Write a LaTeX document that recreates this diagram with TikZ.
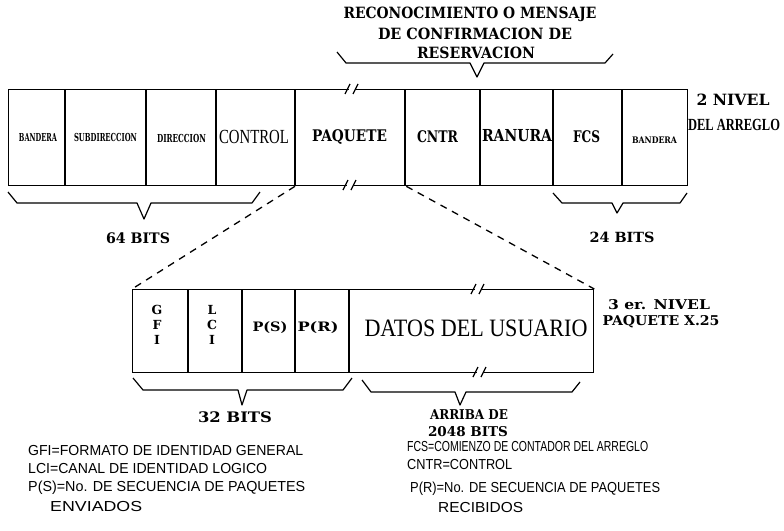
\documentclass[tikz,border=0pt]{standalone}
\usepackage{fontspec}
\usepackage{graphicx}
\setmainfont{Liberation Serif}
\newfontfamily\legfont{Liberation Sans}
\newfontfamily\dotfont{DejaVu Serif}
\newfontfamily\timesbold{Liberation Serif}
\newcommand{\fw}[3]{\resizebox{#1pt}{\height}{\fontsize{#2}{#2}\selectfont #3}}
\usetikzlibrary{calc}
\tikzset{
  fld/.style={draw, line width=1.3pt, anchor=north west, inner sep=0pt},
  top/.style={fld, minimum height=96pt},
  low/.style={fld, minimum height=83pt},
  vsep/.style={line width=2.2pt},
  lab/.style={inner sep=0pt, font=\dotfont\bfseries},
  rlab/.style={inner sep=0pt, font=\timesbold},
  leg/.style={inner sep=0pt, anchor=west, font=\legfont},
  brace/.style={line width=1.2pt, line join=round},
  zoomline/.style={line width=1.3pt, dash pattern=on 7pt off 6pt},
  brk/.style={line width=1.2pt}
}
\newcommand{\brkmark}[2]{%
  \fill[white] (#1-3,#2-2.5) rectangle (#1+3,#2+2.5);
  \draw[brk] (#1-7,#2+5) -- (#1-2,#2-5);
  \draw[brk] (#1+1,#2+5) -- (#1+6,#2-5);
}
\begin{document}
\begin{tikzpicture}[x=1pt,y=-1pt]
\useasboundingbox (0,0) rectangle (784,530);
% top frame
\node[top, minimum width=57pt] (b1) at (8,89) {};
\node[top, minimum width=81pt] (sub) at (65,89) {};
\node[top, minimum width=70pt] (dir) at (146,89) {};
\node[top, minimum width=79pt] (ctl) at (216,89) {};
\node[top, minimum width=110pt] (paq) at (295,89) {};
\node[top, minimum width=75pt] (cntr) at (405,89) {};
\node[top, minimum width=73pt] (ran) at (480,89) {};
\node[top, minimum width=69pt] (fcs) at (553,89) {};
\node[top, minimum width=65pt] (b2) at (622,89) {};
\foreach \n in {sub,dir,ctl,paq,cntr,ran,fcs,b2}
  \draw[vsep] (\n.north west) -- (\n.south west);
\brkmark{352}{89}
\brkmark{350}{185}
% top labels
\node[lab] (lb1) at (38,137) {\fw{38}{11}{BANDERA}};
\node[lab] (lsub) at (105.5,137) {\fw{63}{11}{SUBDIRECCION}};
\node[lab] (ldir) at (181.5,138) {\fw{49}{11}{DIRECCION}};
\node[rlab] (lctl) at (254,137) {\fw{70}{20}{CONTROL}};
\node[lab] (lpaq) at (349.5,137) {\fw{75}{16}{PAQUETE}};
\node[lab] (lcntr) at (437.5,137) {\fw{41}{16}{CNTR}};
\node[lab] (lran) at (517,136) {\fw{70}{16.5}{RANURA}};
\node[lab] (lfcs) at (586.5,137) {\fw{27}{16}{FCS}};
\node[lab] (lb2) at (654.5,140) {\fw{45}{9}{BANDERA}};
% title
\node[lab] (t1) at (470,14) {\fw{253}{15.5}{RECONOCIMIENTO O MENSAJE}};
\node[lab] (t2) at (475,34) {\fw{194}{15.5}{DE CONFIRMACION DE}};
\node[lab] (t3) at (476,53) {\fw{118}{15.5}{RESERVACION}};
\draw[brace] (337,52) -- (346,63) -- (470,63) -- (477,77) -- (484,63) -- (605,63) -- (613,54);
% level 2 label
\node[lab] (n2a) at (733,100) {\fw{73}{15.5}{2 NIVEL}};
\node[rlab] (n2b) at (734,125) {\bfseries\fw{92}{17}{DEL ARREGLO}};
% bottom braces of top frame
\draw[brace] (8,192) -- (17,203) -- (137,203) -- (144,219) -- (151,203) -- (252,203) -- (260,192);
\node[lab] (b64) at (138,238) {\fw{64}{14.5}{64 BITS}};
\draw[brace] (553,193) -- (562,203) -- (612,203) -- (617,213) -- (623,203) -- (680,203) -- (687,193);
\node[lab] (b24) at (622,237) {\fw{65}{14}{24 BITS}};
% lower frame
\node[low, minimum width=56pt] (gfi) at (132,289) {};
\node[low, minimum width=54pt] (lci) at (188,289) {};
\node[low, minimum width=53pt] (ps) at (242,289) {};
\node[low, minimum width=54pt] (pr) at (295,289) {};
\node[low, minimum width=244pt] (dat) at (349,289) {};
\foreach \n in {lci,ps,pr,dat}
  \draw[vsep] (\n.north west) -- (\n.south west);
\brkmark{478}{289}
\brkmark{480}{372}
\node[lab, align=center, font=\dotfont\bfseries\fontsize{12.5}{15}\selectfont] (lgfi) at (157,325) {G\\F\\I};
\node[lab, align=center, font=\dotfont\bfseries\fontsize{12.5}{15}\selectfont] (llci) at (212,325) {L\\C\\I};
\node[lab] (lps) at (270,328) {\fw{35}{13}{P(S)}};
\node[lab] (lpr) at (318,328) {\fw{41}{13}{P(R)}};
\node[rlab] (ldat) at (476,328) {\fw{223}{25}{DATOS DEL USUARIO}};
% zoom lines
\draw[zoomline] (paq.south west) -- (gfi.north west);
\draw[zoomline] (paq.south east) -- (dat.north east);
% level 3 label
\node[lab] (n3a) at (659,305) {\fw{102}{13.5}{3 er. NIVEL}};
\node[lab] (n3b) at (661,322) {\fw{117}{13.5}{PAQUETE X.25}};
% lower braces
\draw[brace] (133,378) -- (143,390) -- (238,390) -- (242,405) -- (247,390) -- (343,390) -- (352,378);
\node[lab] (b32) at (235,417) {\fw{74}{14.5}{32 BITS}};
\draw[brace] (362,380) -- (371,392) -- (455,392) -- (460,405) -- (466,392) -- (572,392) -- (580,382);
\node[lab] (arr1) at (469,415) {\fw{78}{13.5}{ARRIBA DE}};
\node[lab] (arr2) at (468,432) {\fw{80}{13.5}{2048 BITS}};
% legends
\node[leg] (g1) at (28,451) {\fw{275}{14.5}{GFI=FORMATO DE IDENTIDAD GENERAL}};
\node[leg] (g2) at (28,469) {\fw{239}{14.5}{LCI=CANAL DE IDENTIDAD LOGICO}};
\node[leg] (g3) at (28,488) {\fw{277}{14.5}{P(S)=No. DE SECUENCIA DE PAQUETES}};
\node[leg] (g4) at (50,507) {\fw{92}{14.5}{ENVIADOS}};
\node[leg] (r1) at (407,447) {\fw{241}{14.5}{FCS=COMIENZO DE CONTADOR DEL ARREGLO}};
\node[leg] (r2) at (407,465) {\fw{105}{14.5}{CNTR=CONTROL}};
\node[leg] (r3) at (410,489) {\fw{250}{14.5}{P(R)=No. DE SECUENCIA DE PAQUETES}};
\node[leg] (r4) at (438,508) {\fw{85}{14.5}{RECIBIDOS}};
\end{tikzpicture}
\end{document}
